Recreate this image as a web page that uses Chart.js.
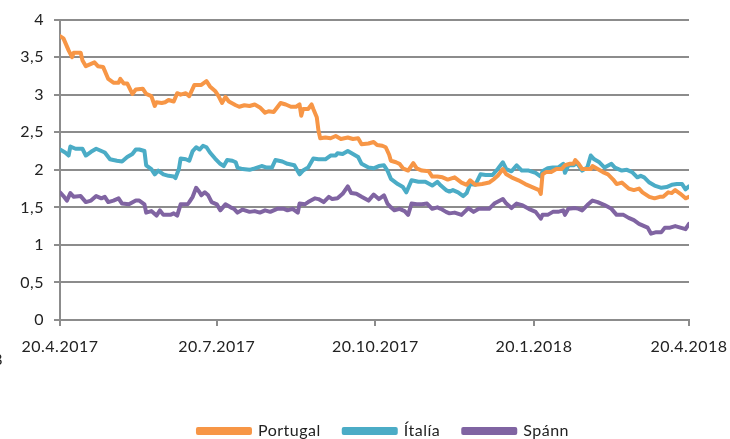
<!DOCTYPE html>
<html>
<head>
<meta charset="utf-8">
<script src="https://cdn.jsdelivr.net/npm/chart.js@4"></script>
<style>
html,body{margin:0;padding:0;background:#fff;}
#wrap{width:730px;height:439px;position:relative;}
</style>
</head>
<body>
<div id="wrap"><canvas id="c" width="730" height="439"></canvas></div>
<script>
// Days since 20.4.2017 and values (%)
const seriesNames = ['Portugal', 'Ítalía', 'Spánn'];
const tickDays = [0, 91, 183, 275, 365];
const tickLabels = ['20.4.2017', '20.7.2017', '20.10.2017', '20.1.2018', '20.4.2018'];

const portugalDays = [0,2,5,7,8,12,13,15,18,20,22,25,28,31,34,35,37,39,42,44,48,50,53,55,56,59,61,63,66,68,70,73,75,78,82,85,87,90,92,94,96,98,102,104,107,110,113,116,119,121,124,128,131,134,137,139,140,141,144,146,147,149,150,151,154,157,160,163,167,170,173,175,179,182,184,187,189,191,192,195,197,199,202,205,207,210,214,216,219,222,225,229,233,236,238,241,245,249,252,254,257,259,262,266,270,274,278,279,280,282,285,288,291,293,296,298,299,301,303,308,309,312,315,318,321,323,326,330,333,336,338,342,345,348,350,353,355,357,360,363,365];
const portugalValues = [3.78,3.75,3.59,3.50,3.56,3.56,3.46,3.38,3.41,3.43,3.38,3.37,3.21,3.16,3.16,3.21,3.15,3.15,3.01,3.07,3.08,3.01,2.98,2.85,2.90,2.89,2.90,2.93,2.91,3.02,3.00,3.02,2.98,3.13,3.13,3.18,3.11,3.05,2.98,2.89,2.97,2.91,2.86,2.84,2.86,2.85,2.87,2.83,2.76,2.78,2.77,2.89,2.87,2.84,2.84,2.87,2.72,2.81,2.81,2.87,2.81,2.70,2.52,2.42,2.43,2.42,2.45,2.41,2.43,2.41,2.42,2.34,2.35,2.37,2.33,2.32,2.30,2.20,2.12,2.10,2.08,2.02,1.99,2.09,2.02,1.99,1.98,1.91,1.91,1.90,1.87,1.90,1.83,1.80,1.86,1.80,1.81,1.83,1.88,1.92,2.01,1.94,1.90,1.86,1.81,1.77,1.73,1.68,1.94,1.97,1.97,2.01,2.01,2.06,2.08,2.08,2.13,2.08,2.01,2.01,2.05,2.01,1.97,1.94,1.87,1.81,1.83,1.75,1.73,1.75,1.70,1.64,1.62,1.64,1.64,1.70,1.69,1.73,1.68,1.62,1.64];

const italyDays = [0,3,5,6,9,13,15,18,21,24,26,29,33,36,39,42,44,46,49,50,53,55,57,60,63,66,67,69,70,73,75,77,79,81,83,85,87,90,93,95,97,100,102,103,106,110,113,117,120,123,125,129,132,136,139,141,144,147,150,154,157,160,161,164,167,170,173,175,179,182,185,188,190,192,196,199,201,204,208,212,216,219,221,224,226,228,231,234,236,238,241,244,247,251,254,257,259,262,265,268,272,276,279,280,283,286,289,292,293,295,298,300,303,306,308,310,313,316,320,322,326,329,332,335,337,339,342,345,349,352,355,358,361,363,365];
const italyValues = [2.27,2.23,2.19,2.31,2.28,2.28,2.19,2.24,2.28,2.25,2.23,2.14,2.12,2.11,2.17,2.21,2.27,2.27,2.25,2.06,2.01,1.94,1.99,1.94,1.92,1.91,1.89,2.01,2.15,2.14,2.12,2.25,2.30,2.27,2.32,2.30,2.23,2.15,2.08,2.05,2.13,2.12,2.10,2.03,2.01,2.00,2.02,2.05,2.03,2.03,2.13,2.11,2.08,2.06,1.94,1.99,2.03,2.15,2.14,2.14,2.19,2.19,2.22,2.21,2.25,2.21,2.17,2.08,2.03,2.02,2.05,2.06,1.99,1.88,1.81,1.77,1.70,1.86,1.84,1.84,1.79,1.84,1.79,1.73,1.71,1.73,1.70,1.65,1.69,1.81,1.80,1.94,1.93,1.93,2.01,2.10,2.01,1.98,2.06,1.99,1.99,1.96,1.91,1.98,2.02,2.03,2.03,2.08,1.96,2.06,2.06,2.09,1.99,2.03,2.19,2.14,2.10,2.03,2.08,2.03,1.99,2.00,1.97,1.90,1.92,1.90,1.83,1.79,1.76,1.77,1.80,1.81,1.81,1.74,1.78];

const spainDays = [0,2,4,6,8,12,15,18,21,24,26,28,31,34,36,40,44,46,49,50,53,56,58,60,64,66,68,70,74,75,77,79,81,82,84,86,88,91,93,96,99,101,103,106,110,113,116,119,122,126,130,132,135,138,139,142,144,148,150,153,156,158,161,164,167,169,172,175,179,182,185,188,190,192,194,197,200,202,204,207,210,213,216,219,221,224,226,229,233,237,240,243,249,252,257,259,262,265,268,272,276,279,280,283,286,289,292,293,295,299,301,303,306,309,312,316,320,323,327,330,333,336,338,341,343,346,349,351,354,357,360,363,365];
const spainValues = [1.70,1.65,1.59,1.69,1.64,1.65,1.57,1.59,1.65,1.62,1.64,1.57,1.59,1.62,1.55,1.54,1.59,1.59,1.54,1.43,1.45,1.39,1.46,1.40,1.40,1.42,1.39,1.54,1.54,1.57,1.64,1.76,1.70,1.66,1.70,1.66,1.57,1.54,1.46,1.54,1.50,1.48,1.43,1.47,1.44,1.45,1.43,1.46,1.44,1.48,1.48,1.46,1.48,1.43,1.55,1.54,1.57,1.62,1.61,1.57,1.64,1.61,1.62,1.68,1.78,1.69,1.68,1.64,1.59,1.67,1.61,1.66,1.55,1.50,1.46,1.48,1.45,1.40,1.55,1.54,1.54,1.55,1.48,1.50,1.48,1.44,1.42,1.43,1.40,1.49,1.44,1.48,1.48,1.55,1.61,1.55,1.49,1.55,1.53,1.48,1.44,1.35,1.40,1.40,1.44,1.44,1.46,1.40,1.48,1.49,1.48,1.46,1.53,1.59,1.57,1.53,1.48,1.40,1.40,1.36,1.33,1.28,1.26,1.23,1.15,1.17,1.17,1.23,1.23,1.25,1.23,1.21,1.28];

const colors = ['#F79646', '#4BACC6', '#8064A2'];

function pts(days, vals){ return days.map((d,i)=>({x:d, y:vals[i]})); }

const FONT = 'Lato, "Open Sans", sans-serif';
const TXT = '#222222';
const GRID = '#8c8c8c';

const spacing = {
  id: 'spacing',
  beforeUpdate(chart){ chart.ctx.letterSpacing = '0.5px'; },
  beforeDraw(chart){ chart.ctx.letterSpacing = '0.5px'; }
};

// move the legend block to the same horizontal place as in the picture
const legendShift = {
  id: 'legendShift',
  afterLayout(chart){
    const l = chart.legend;
    if (l) { l.left += 39; l.right += 39; }
  }
};

const strayText = {
  id: 'strayText',
  afterDraw(chart){
    const ctx = chart.ctx;
    ctx.save();
    ctx.font = '15px ' + FONT;
    ctx.fillStyle = TXT;
    ctx.textAlign = 'right';
    ctx.textBaseline = 'middle';
    ctx.fillText('8', 3, 360);
    ctx.restore();
  }
};

new Chart(document.getElementById('c'), {
  type: 'line',
  data: {
    datasets: [
      {label: seriesNames[0], data: pts(portugalDays, portugalValues), borderColor: colors[0], backgroundColor: colors[0]},
      {label: seriesNames[1], data: pts(italyDays, italyValues), borderColor: colors[1], backgroundColor: colors[1]},
      {label: seriesNames[2], data: pts(spainDays, spainValues), borderColor: colors[2], backgroundColor: colors[2]}
    ]
  },
  options: {
    responsive: false,
    animation: false,
    devicePixelRatio: 1,
    layout: {padding: {top: 16, right: 41, left: 0, bottom: -10}},
    elements: {
      line: {borderWidth: 4, tension: 0, borderJoinStyle: 'round', borderCapStyle: 'round'},
      point: {radius: 0, hoverRadius: 0}
    },
    plugins: {
      tooltip: {enabled: false},
      legend: {
        position: 'bottom',
        labels: {
          boxWidth: 52, boxHeight: 4, padding: 23,
          color: TXT,
          font: {family: FONT, size: 16}
        }
      }
    },
    scales: {
      x: {
        type: 'linear',
        min: 0, max: 365,
        afterBuildTicks(scale){ scale.ticks = tickDays.map(v=>({value:v})); },
        afterFit(scale){ scale.height = 80; scale.paddingLeft = 0; scale.paddingRight = 0; },
        ticks: {
          autoSkip: false, maxRotation: 0,
          padding: 11,
          color: TXT,
          font: {family: FONT, size: 16},
          callback(v){ const i = tickDays.indexOf(v); return i >= 0 ? tickLabels[i] : ''; }
        },
        grid: {drawOnChartArea: false, drawTicks: true, tickLength: 6, color: GRID, lineWidth: 2},
        border: {display: true, color: GRID, width: 2}
      },
      y: {
        min: 0, max: 4,
        afterFit(scale){ scale.width = 60; },
        ticks: {
          stepSize: 0.5,
          padding: 10,
          color: TXT,
          font: {family: FONT, size: 16},
          callback(v){ return String(v).replace('.', ','); }
        },
        grid: {color: GRID, lineWidth: 2, tickLength: 6},
        border: {display: true, color: GRID, width: 2}
      }
    }
  },
  plugins: [spacing, legendShift, strayText]
});
</script>
</body>
</html>
